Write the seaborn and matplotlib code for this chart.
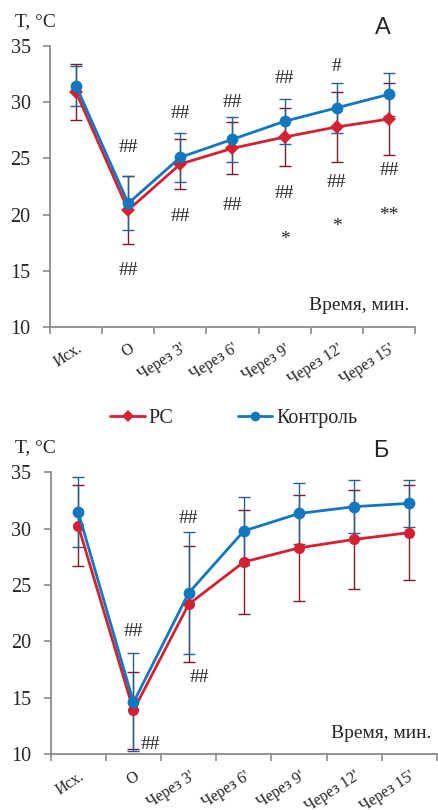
import numpy as np
import pandas as pd
import matplotlib
matplotlib.use("Agg")
import matplotlib.pyplot as plt
import seaborn as sns
from matplotlib.lines import Line2D

categories = ["Исх.", "О", "Через 3'", "Через 6'", "Через 9'", "Через 12'", "Через 15'"]

# Panel A
a_rc = [30.9, 20.4, 24.5, 25.9, 26.9, 27.8, 28.5]
a_rc_err = [2.5, 3.0, 2.2, 2.3, 2.6, 3.1, 3.2]
a_ctrl = [31.45, 21.0, 25.1, 26.7, 28.3, 29.5, 30.7]
a_ctrl_err = [1.8, 2.4, 2.2, 2.0, 2.0, 2.2, 1.9]

# Panel B
b_rc = [30.25, 13.9, 23.3, 27.05, 28.3, 29.05, 29.65]
b_rc_err = [3.6, 3.4, 5.15, 4.6, 4.7, 4.4, 4.2]
b_ctrl = [31.45, 14.6, 24.3, 29.8, 31.35, 31.95, 32.25]
b_ctrl_err = [3.1, 4.35, 5.4, 3.0, 2.7, 2.35, 2.1]

yticks = [10, 15, 20, 25, 30, 35]

a_notes = [(1, 26.0, "##"), (1, 15.0, "##"),
           (2, 29.0, "##"), (2, 19.8, "##"),
           (3, 30.0, "##"), (3, 20.8, "##"),
           (4, 32.1, "##"), (4, 21.9, "##"), (4, 17.8, "*"),
           (5, 33.2, "#"), (5, 22.9, "##"), (5, 18.9, "*"),
           (6, 23.9, "##"), (6, 19.9, "**")]
b_notes = [(1, 20.9, "##"), (1.3, 10.9, "##"),
           (2, 30.9, "##"), (2.2, 16.8, "##")]

RED = "#d42030"
BLUE = "#1277bd"
RED_E = "#7d1a2c"
BLUE_E = "#275f8f"
GRAY = "#8a8a8a"

sns.set_style("ticks")
plt.rcParams["font.family"] = ["Liberation Serif", "DejaVu Serif"]

fig = plt.figure(figsize=(4.39, 8.10), dpi=100)
axA = fig.add_axes([0.1139, 1 - 327 / 810, 0.9453 - 0.1139, (327 - 46) / 810])
axB = fig.add_axes([0.1155, 1 - 754.3 / 810, 0.9954 - 0.1155, (754.3 - 472.3) / 810])


def draw(ax, rc, rc_err, ctrl, ctrl_err, rc_marker, notes):
    x = np.arange(len(categories))
    df = pd.DataFrame({
        "x": np.concatenate([x, x]),
        "T": rc + ctrl,
        "group": ["РС"] * len(x) + ["Контроль"] * len(x),
    })
    ax.errorbar(x, rc, yerr=rc_err, fmt="none", ecolor=RED_E, elinewidth=1.0,
                capsize=4, capthick=1.0, zorder=2)
    ax.errorbar(x, ctrl, yerr=ctrl_err, fmt="none", ecolor=BLUE_E, elinewidth=1.0,
                capsize=4, capthick=1.0, zorder=2)
    sns.lineplot(data=df[df.group == "РС"], x="x", y="T", ax=ax, color=RED,
                 marker=rc_marker, markersize=7 if rc_marker == "D" else 8,
                 markeredgewidth=0, linewidth=2.0, zorder=3, legend=False)
    sns.lineplot(data=df[df.group == "Контроль"], x="x", y="T", ax=ax, color=BLUE,
                 marker="o", markersize=8.5, markeredgewidth=0, linewidth=2.0,
                 zorder=4, legend=False)
    ax.set_xlim(-0.5, len(categories) - 0.5)
    ax.set_ylim(10, 35)
    ax.set_yticks(yticks)
    ax.set_yticklabels([str(v) for v in yticks], fontsize=14.5)
    ax.set_xticks(np.arange(len(categories) + 1) - 0.5)
    ax.set_xticklabels([])
    ax.set_xticks(x, minor=True)
    ax.set_xticklabels(categories, minor=True, rotation=33, ha="right",
                       rotation_mode="anchor", fontsize=11.5)
    ax.tick_params(axis="x", which="minor", length=0, pad=10)
    ax.tick_params(axis="x", which="major", length=5, width=1.2, color=GRAY)
    ax.tick_params(axis="y", which="major", length=5, width=1.2, color=GRAY, pad=9)
    ax.set_xlabel("")
    ax.set_ylabel("")
    for s in ["top", "right"]:
        ax.spines[s].set_visible(False)
    for s in ["left", "bottom"]:
        ax.spines[s].set_color(GRAY)
        ax.spines[s].set_linewidth(1.3)
    for xi, yi, t in notes:
        ax.text(xi, yi, t, ha="center", va="center", fontsize=14, color="#222222")
    ax.text(0.985, 0.075, "Время, мин.", transform=ax.transAxes, ha="right",
            va="center", fontsize=14)
    ax.grid(False)


draw(axA, a_rc, a_rc_err, a_ctrl, a_ctrl_err, "D", a_notes)
draw(axB, b_rc, b_rc_err, b_ctrl, b_ctrl_err, "o", b_notes)

fig.text(15 / 439, 1 - 22 / 810, "T, °C", fontsize=14, va="center", ha="left")
fig.text(15 / 439, 1 - 448 / 810, "T, °C", fontsize=14, va="center", ha="left")
fig.text(383 / 439, 1 - 28 / 810, "А", fontsize=17, va="center", ha="center",
         family=["Liberation Sans", "DejaVu Sans"])
fig.text(381 / 439, 1 - 451 / 810, "Б", fontsize=17, va="center", ha="center",
         family=["Liberation Sans", "DejaVu Sans"])

handles = [Line2D([], [], color=RED, marker="D", markersize=6, markeredgewidth=0, linewidth=2),
           Line2D([], [], color=BLUE, marker="o", markersize=7, markeredgewidth=0, linewidth=2)]
fig.legend(handles, ["РС", "Контроль"], loc="center", bbox_to_anchor=(234 / 439, 1 - 418 / 810),
           ncol=2, frameon=False, fontsize=14.5, handlelength=1.7, handletextpad=0.2,
           columnspacing=3.2)

fig.savefig("out.png", dpi=100)
